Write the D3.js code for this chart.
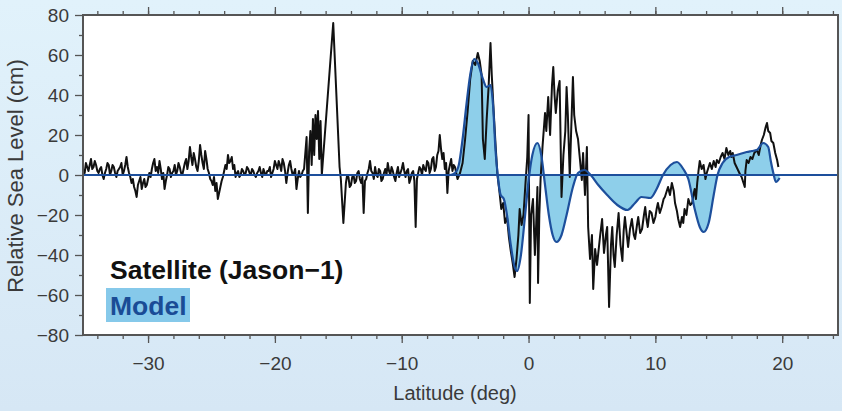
<!DOCTYPE html>
<html>
<head>
<meta charset="utf-8">
<script src="https://cdn.jsdelivr.net/npm/d3@7"></script>
<style>
  html, body { margin: 0; padding: 0; }
  body { width: 842px; height: 411px; overflow: hidden;
         background: linear-gradient(#e1f2fb, #d6e7f5); }
  svg { display: block; font-family: "Liberation Sans", Arial, sans-serif; }
</style>
</head>
<body>
<svg id="chart" width="842" height="411"></svg>
<script>
// satellite track (Jason-1), sea level in cm
// calm south part, every 0.1 deg from -35.1
const satStartA = -35.1;
const satSeaA = [
  3,1,6,4,2,5,8,3,4,7,5,2,1,3,4,0,-2,1,3,6,5,0,2,5,4,1,-1,2,3,4,6,0,
  2,5,9,4,1,-1,-4,-2,-6,-8,-11,-5,-3,-1,-7,-4,-2,-6,-5,-2,1,-1,3,6,8,2,4,1,7,3,
  -2,1,-7,-3,0,4,3,-1,1,2,5,0,2,6,4,1,0,3,6,8,3,7,14,9,5,11,8,4,2,7,15,10,
  6,3,12,8,3,1,-2,-3,-5,-1,-8,-4,-12,-9,-6,-3,-1,2,5,3,10,6,7,9,3,5,-1,1,2,-1,
  0,3,2,0,1,4,3,1,0,3,2,0,-1,1,2,4,1,-1,3,1,0,2,2,4,-1,1,3,7,5,3,7,5,
  2,8,6,2,-4,1,5,7,3,0,1,3,-7,-2,2,-1,0,2,3
];
// gap and spike near -15.5
const satLatB = [-17.5,-17.4,-17.3,-17.2,-17.1,-17.0,-16.9,-16.8,-16.7,-16.6,-16.5,-16.4,-16.3,-15.4,-14.9,-14.8,-14.6];
const satSeaB = [19,-19,12,22,5,28,10,30,18,32,8,27,0,76,4,-2,-24];
// every 0.1 deg from -14.4
const satStartC = -14.4;
const satSeaC = [
  -4,0,-1,-6,-5,-1,0,-4,-3,1,2,-2,-4,-1,-19,-3,-2,1,3,7,2,1,-2,4,0,-1,3,2,-3,-2,
  1,3,0,6,2,0,4,2,-1,-3,1,4,-1,1,3,6,2,-1,2,3,-4,-2,1,2,-3,-26,-2,1,4,3,
  0,5,3,2,7,6,1,3,8,9,2,4,10,12,20,13,8,11,3,6,-9,2,5,8,2,5,4,1,-2
];
// front zone to the north end
const satLatD = [
  -5.4,-5.2,-5.0,-4.8,-4.6,-4.4,-4.2,-4.0,-3.85,
  -3.7,-3.6,-3.45,-3.3,-3.15,-3.0,-2.9,-2.75,-2.6,-2.45,-2.3,-2.15,-2.0,-1.85,-1.7,-1.55,
  -1.4,-1.25,-1.1,-0.95,-0.8,-0.7,-0.55,-0.4,-0.25,-0.1,0.0,0.1,0.2,0.35,0.5,0.6,
  0.7,0.75,0.85,0.95,1.1,1.3,1.4,1.55,1.7,1.85,1.95,2.05,2.15,2.3,2.45,2.6,
  2.75,2.9,3.0,3.1,3.25,3.35,3.5,3.6,3.75,3.9,4.05,4.2,4.3,4.45,4.6,4.7,
  4.85,5.0,5.1,5.25,5.4,5.5,5.65,5.8,5.95,6.1,6.2,6.35,6.5,6.6,6.7,6.8,
  6.95,7.1,7.25,7.4,7.5,7.6,7.75,7.85,8.0,8.15,8.3,8.4,8.55,8.65,8.8,8.95,
  9.1,9.2,9.3,9.4,9.55,9.7,9.85,10.0,10.1,10.2,10.35,10.5,10.65,10.75,10.9,11.0,
  11.15,11.3,11.45,11.55,11.7,11.8,11.95,12.1,12.2,12.3,12.45,12.6,12.75,12.9,13.0,13.1,
  13.2,13.3,13.4,13.5,13.65,13.8,13.95,14.05,14.2,14.3,14.45,14.6,14.75,14.85,15.0,15.15,
  15.3,15.45,15.6,15.75,15.9,16.0,16.1,16.25,16.4,16.55,16.7,16.8,16.95,17.05,17.1,17.2,
  17.35,17.5,17.65,17.8,18.0,18.15,18.3,18.4,18.55,18.7,18.8,18.9,19.05,19.15,19.3,19.45,
  19.6,19.7
];
const satSeaD = [
  1,6,18,32,48,57,55,61,57,
  50,18,8,28,44,66,50,32,15,0,-8,-17,-14,-24,-21,-31,
  -38,-44,-51,-42,-30,-17,-25,-20,-5,9,30,-64,-20,-12,-40,-25,
  -6,-54,-20,-2,14,31,22,39,20,45,54,40,31,42,47,-11,
  10,22,44,30,-1,20,49,30,22,18,8,-2.5,11,-10,14,-26,
  -42,-30,-57,-37,-45,-39,-30,-22,-39,-30,-26,-66,-35,-26,-40,-46,
  -30,-19,-35,-43,-28,-21,-30,-36,-27,-22,-30,-32,-25,-21,-29,-27,
  -20,-16,-22,-26,-18,-19,-24,-21,-17,-14,-19,-16,-12,-11,-8,-6,
  -10,-4,-8,-14,-18,-22,-26,-21,-24,-17,-20,-12,-15,-14,-10,-7,
  -12,-4,2,7,3,5,-2,1,4,6,3,7,4,7.5,6,9,
  11,8,13.5,10,12,9,11,6,4,2,0,-1,-4,-6,2,7.5,
  6,9,8,11,12.5,10,15,17.5,20,24,26,22,21,17,16,11,
  7.5,4
];

// model, smooth curve
const modelLat = [
  -35.1,-6.2,-5.8,-5.5,-5.2,-4.9,-4.6,-4.3,-4.0,-3.6,-3.3,-3.0,-2.8,-2.6,-2.4,-2.2,
  -1.95,-1.7,-1.4,-1.1,-0.9,-0.6,-0.3,0.0,0.3,0.7,1.0,1.3,1.6,1.9,2.2,2.6,
  3.0,3.5,3.9,4.4,4.9,5.5,6.2,7.0,7.8,8.4,8.9,9.6,10.1,10.6,11.2,11.7,
  12.2,12.6,13.1,13.5,13.8,14.2,14.6,14.9,15.3,15.8,16.4,17.2,17.6,18.0,
  18.5,18.9,19.1,19.3,19.5,19.8
];
const modelSea = [
  0,0,1,5,18,35,50,58,56,48,44,45,35,12,-2,-10,
  -12,-20,-35,-46,-48,-40,-22,-3,10,16,10,-5,-20,-30,-33.5,-30,
  -20,-6,1,2.5,0,-5,-10,-15,-17.5,-14,-11,-11.5,-7,0,5,6.5,
  3,-2,-17,-26,-28.5,-24,-10,0,6,9,10,11.5,12,12.5,
  16,14,7,1,-3.5,-1.5
];

const xTicks = [-30, -20, -10, 0, 10, 20];
const yTicks = [-80, -60, -40, -20, 0, 20, 40, 60, 80];

const svg = d3.select("#chart");
const margin = { top: 15, right: 4, bottom: 76, left: 83 };
const width = 842 - margin.left - margin.right;
const height = 411 - margin.top - margin.bottom;

const x = d3.scaleLinear().domain([-35.13, 24.4]).range([0, width]);
const y = d3.scaleLinear().domain([-80, 80]).range([height, 0]);

const g = svg.append("g").attr("transform", `translate(${margin.left},${margin.top})`);

g.append("rect").attr("width", width).attr("height", height).attr("fill", "#fff");

const even = (start, vals) => vals.map((v, i) => [start + i * 0.1, v]);
const sat = [].concat(
  even(satStartA, satSeaA),
  satLatB.map((d, i) => [d, satSeaB[i]]),
  even(satStartC, satSeaC),
  satLatD.map((d, i) => [d, satSeaD[i]])
);
const model = modelLat.map((d, i) => [d, modelSea[i]]);

g.append("path")
  .datum(model)
  .attr("fill", "#8ecfea")
  .attr("d", d3.area().x(d => x(d[0])).y0(y(0)).y1(d => y(d[1])).curve(d3.curveMonotoneX));

g.append("path")
  .datum(sat)
  .attr("fill", "none")
  .attr("stroke", "#111")
  .attr("stroke-width", 2)
  .attr("stroke-linejoin", "round")
  .attr("d", d3.line().x(d => x(d[0])).y(d => y(d[1])));

g.append("path")
  .datum(model)
  .attr("fill", "none")
  .attr("stroke", "#1d4f9c")
  .attr("stroke-width", 2.2)
  .attr("d", d3.line().x(d => x(d[0])).y(d => y(d[1])).curve(d3.curveMonotoneX));

g.append("line")
  .attr("x1", 0).attr("x2", width)
  .attr("y1", y(0)).attr("y2", y(0))
  .attr("stroke", "#1d4f9c").attr("stroke-width", 2);

// axes
const minorX = d3.range(-34, 25, 2);
const minorY = d3.range(-70, 80, 20);

const axisStyle = sel => {
  sel.select(".domain").remove();
  sel.selectAll("line").attr("stroke", "#555").attr("stroke-width", 1.3);
  sel.selectAll("text").attr("fill", "#3a3a3a").style("font-size", "19px");
};

g.append("g").attr("transform", `translate(0,${height})`)
  .call(d3.axisBottom(x).tickValues(minorX).tickSize(4).tickFormat(""))
  .call(axisStyle);
g.append("g").attr("transform", `translate(0,${height})`)
  .call(d3.axisBottom(x).tickValues(xTicks).tickSize(8).tickPadding(14).tickFormat(d3.format("d")))
  .call(axisStyle);
g.append("g")
  .call(d3.axisTop(x).tickValues(minorX).tickSize(4).tickFormat(""))
  .call(axisStyle);
g.append("g")
  .call(d3.axisTop(x).tickValues(xTicks).tickSize(8).tickFormat(""))
  .call(axisStyle);
g.append("g")
  .call(d3.axisLeft(y).tickValues(minorY).tickSize(4).tickFormat(""))
  .call(axisStyle);
g.append("g")
  .call(d3.axisLeft(y).tickValues(yTicks).tickSize(8).tickPadding(6).tickFormat(d3.format("d")))
  .call(axisStyle);

g.append("rect").attr("width", width).attr("height", height)
  .attr("fill", "none").attr("stroke", "#555").attr("stroke-width", 2);

// axis titles
svg.append("text")
  .attr("x", 455).attr("y", 400)
  .attr("text-anchor", "middle")
  .attr("fill", "#3a3a3a")
  .style("font-size", "20px")
  .text("Latitude (deg)");

svg.append("text")
  .attr("transform", "translate(23,176) rotate(-90)")
  .attr("text-anchor", "middle")
  .attr("fill", "#3a3a3a")
  .style("font-size", "22px")
  .text("Relative Sea Level (cm)");

// legend
svg.append("rect")
  .attr("x", 106).attr("y", 288).attr("width", 84).attr("height", 34)
  .attr("fill", "#86c9ea");
svg.append("text")
  .attr("x", 110).attr("y", 279)
  .attr("fill", "#111").style("font-size", "26.5px").style("font-weight", "bold")
  .text("Satellite (Jason\u22121)");
svg.append("text")
  .attr("x", 110).attr("y", 315)
  .attr("fill", "#1a4c96").style("font-size", "26.5px").style("font-weight", "bold")
  .text("Model");
</script>
</body>
</html>
